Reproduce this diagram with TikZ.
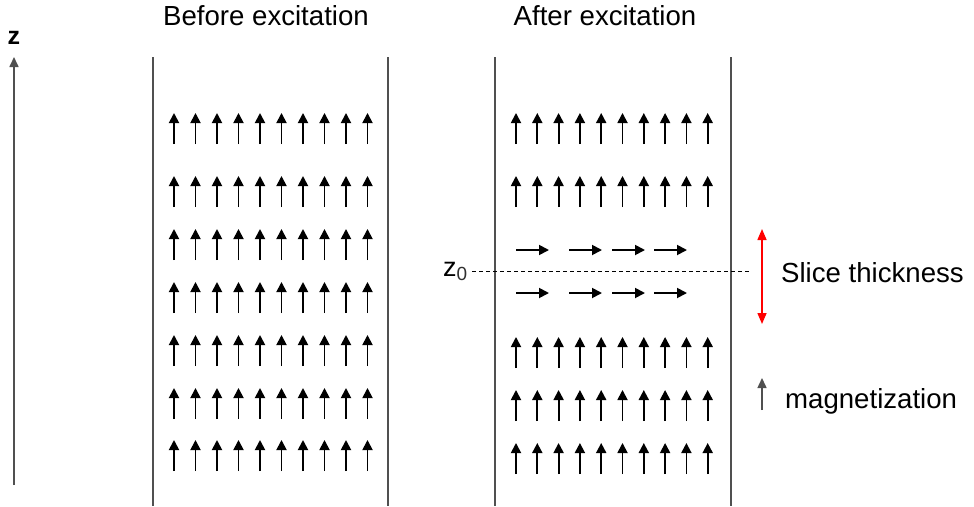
\documentclass[tikz,border=0pt]{standalone}
\usepackage{fontspec}
\setmainfont{Liberation Sans}
\usetikzlibrary{arrows.meta}
\definecolor{linegray}{HTML}{505050}
\tikzset{
  wall/.style={draw=linegray, line width=1.6pt},
  spin/.style={draw=black, line width=1.8pt, -{Triangle[width=10pt,length=10pt]}},
  redarrow/.style={draw=red, line width=1.5pt, {Triangle[width=9pt,length=11pt]}-{Triangle[width=9pt,length=11pt]}},
  legendarrow/.style={draw=linegray, line width=1.5pt, -{Triangle[width=9pt,length=10pt]}},
  label/.style={inner sep=0pt, font=\fontsize{27.6}{30}\selectfont},
}
\begin{document}
\begin{tikzpicture}[x=1pt, y=-1pt]
\useasboundingbox (0,0) rectangle (974,506);
\fill[white] (0,0) rectangle (974,506);
% titles
\node[label, anchor=base] (t1) at (266,25) {Before excitation};
\node[label, anchor=base] (t2) at (605,25) {After excitation};
% z axis
\coordinate (zb) at (14,485);
\coordinate (zt) at (14,57);
\draw[legendarrow, line width=1.6pt] (zb) -- (zt);
\node[inner sep=0pt, anchor=base, font=\fontsize{25}{28}\selectfont\bfseries] (zl) at (14,44) {z};
% walls
\coordinate (w1t) at (153,57); \coordinate (w1b) at (153,506);
\coordinate (w2t) at (388,57); \coordinate (w2b) at (388,506);
\coordinate (w3t) at (495,57); \coordinate (w3b) at (495,506);
\coordinate (w4t) at (731,57); \coordinate (w4b) at (731,506);
\draw[wall] (w1t) -- (w1b);
\draw[wall] (w2t) -- (w2b);
\draw[wall] (w3t) -- (w3b);
\draw[wall] (w4t) -- (w4b);
% left spins
\foreach \y in {113,176,229,282,335,388,440} {
  \foreach \i in {0,...,9} {
    \draw[spin] (174+21.5*\i, \y+31) -- (174+21.5*\i, \y);
  }
}
% right spins (up)
\foreach \y in {113,176,337,390,443} {
  \foreach \i in {0,...,9} {
    \draw[spin] (516+21.3*\i, \y+31) -- (516+21.3*\i, \y);
  }
}
% right spins (horizontal)
\foreach \y in {250,293} {
  \foreach \x in {516,569,612,654} {
    \draw[spin] (\x, \y) -- (\x+33, \y);
  }
}
% slice centre
\coordinate (d1) at (472,271);
\coordinate (d2) at (751,271);
\draw[black, line width=1pt, dash pattern=on 4pt off 3pt] (d1) -- (d2);
\node[inner sep=0pt, anchor=base west, font=\fontsize{27}{28}\selectfont] (z0) at (443,276) {z\textsubscript{\fontsize{19}{20}\selectfont\addfontfeatures{Color=303030}0}};
% slice thickness
\coordinate (r1) at (762,229);
\coordinate (r2) at (762,324);
\draw[redarrow] (r1) -- (r2);
\node[label, anchor=base west] (st) at (781,282) {Slice thickness};
% legend
\coordinate (m1) at (762,410);
\coordinate (m2) at (762,378);
\draw[legendarrow] (m1) -- (m2);
\node[label, anchor=base west] (mg) at (785,408) {magnetization};
\end{tikzpicture}
\end{document}
